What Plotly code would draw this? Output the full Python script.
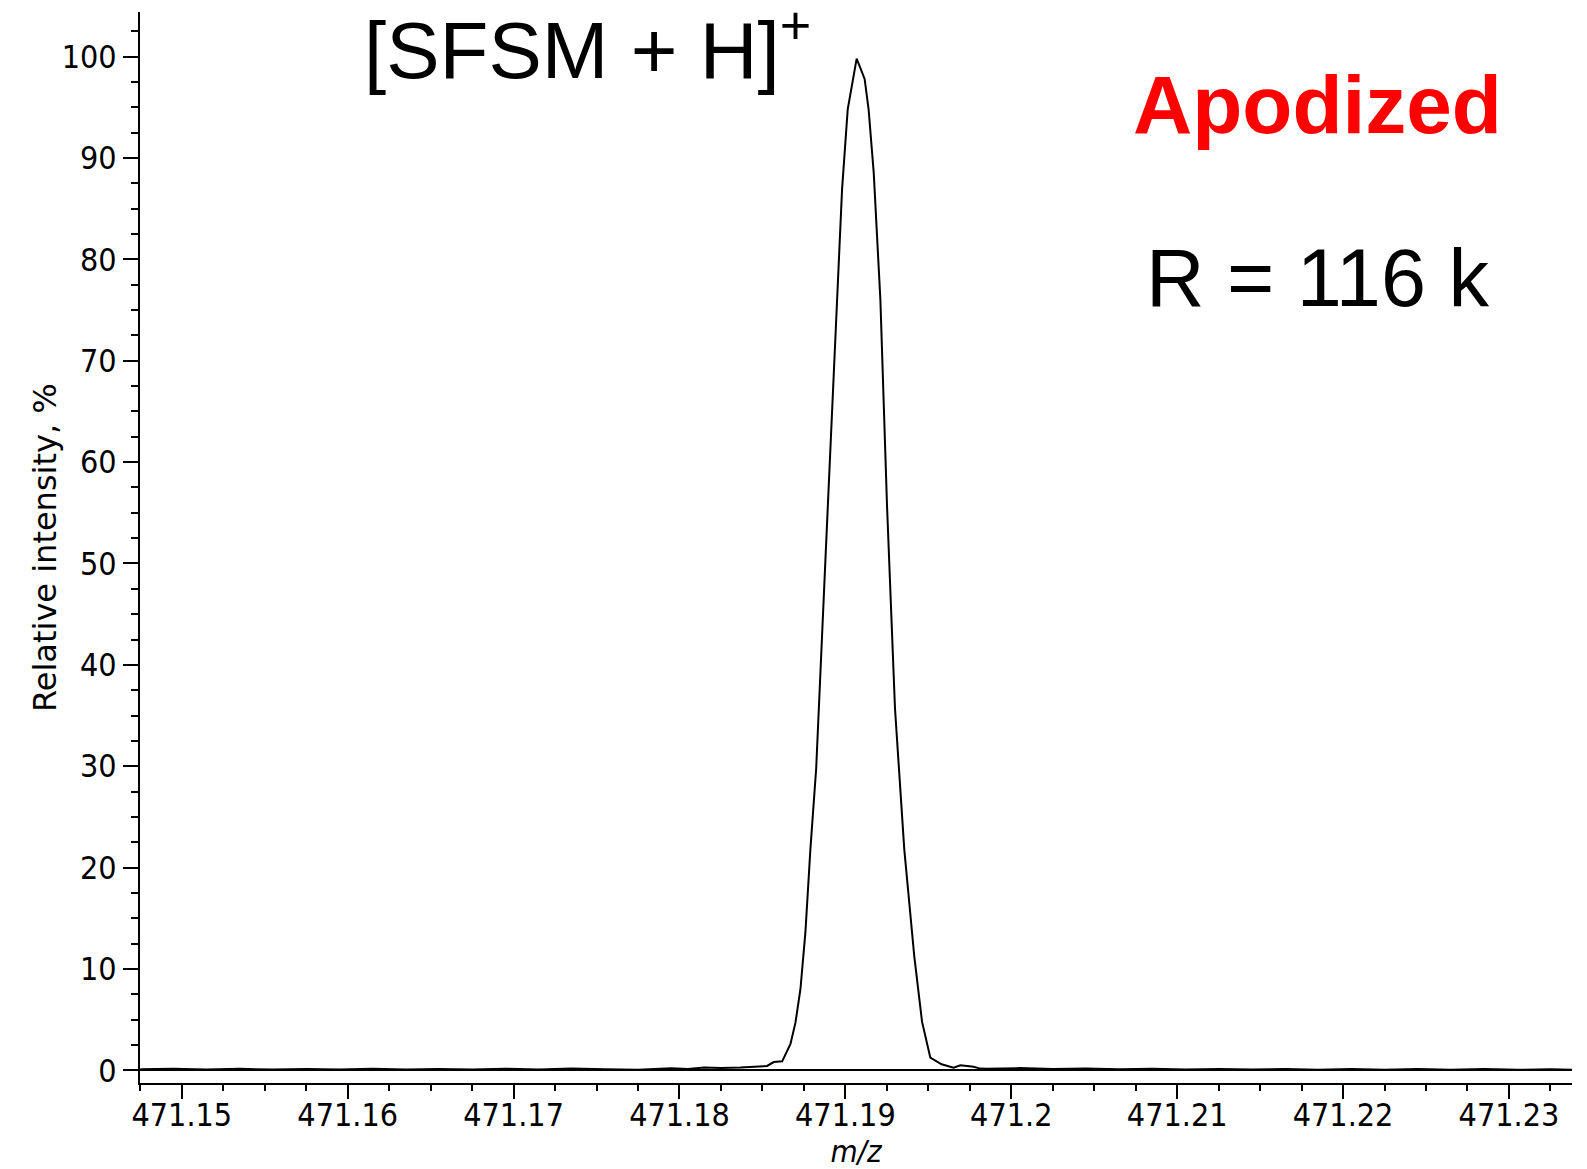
import plotly.graph_objects as go

# Mass spectrum profile of the [SFSM + H]+ ion (apodized transform)
mz = [
    471.14750, 471.14950, 471.15150, 471.15350, 471.15550, 471.15750,
    471.15950, 471.16150, 471.16350, 471.16550, 471.16750, 471.16950,
    471.17150, 471.17350, 471.17550, 471.17750, 471.17950, 471.18050,
    471.18150, 471.18250, 471.18367, 471.18450, 471.18528, 471.18568,
    471.18619, 471.18669, 471.18699, 471.18729, 471.18759, 471.18789,
    471.18824, 471.18880, 471.18950, 471.18980, 471.19014, 471.19068,
    471.19116, 471.19140, 471.19171, 471.19211, 471.19251, 471.19299,
    471.19355, 471.19415, 471.19462, 471.19512, 471.19580, 471.19652,
    471.19693, 471.19773, 471.19813, 471.19850, 471.20050, 471.20250,
    471.20450, 471.20650, 471.20850, 471.21050, 471.21250, 471.21450,
    471.21650, 471.21850, 471.22050, 471.22250, 471.22450, 471.22650,
    471.22850, 471.23050, 471.23250, 471.23380,
]
intensity = [
    0.10, 0.15, 0.08, 0.15, 0.07, 0.14,
    0.08, 0.15, 0.07, 0.14, 0.09, 0.16,
    0.08, 0.17, 0.10, 0.05, 0.20, 0.12,
    0.28, 0.22, 0.27, 0.35, 0.43, 0.82,
    0.89, 2.6, 4.7, 8.0, 13.6, 21.8,
    29.8, 50.5, 76.0, 86.9, 94.8, 99.8,
    97.8, 94.8, 88.5, 76.0, 55.7, 35.7,
    21.8, 11.3, 4.8, 1.25, 0.6, 0.27,
    0.5, 0.36, 0.17, 0.15, 0.22, 0.12,
    0.18, 0.10, 0.15, 0.08, 0.14, 0.07,
    0.13, 0.06, 0.13, 0.06, 0.12, 0.05,
    0.12, 0.05, 0.11, 0.06,
]

x_tick_vals = [471.15, 471.16, 471.17, 471.18, 471.19, 471.20, 471.21, 471.22, 471.23]
x_tick_text = ["471.15", "471.16", "471.17", "471.18", "471.19", "471.2", "471.21", "471.22", "471.23"]
y_tick_vals = [0, 10, 20, 30, 40, 50, 60, 70, 80, 90, 100]

ion_label = "[SFSM + H]<sup><span style='font-size:54px'>+</span></sup>"
mode_label = "Apodized"
resolution_label = "R = 116 k"
y_title = "Relative intensity, %"

axis_font = "DejaVu Sans Condensed, DejaVu Sans, sans-serif"
title_font = "DejaVu Sans, sans-serif"
label_font = "Liberation Sans, Arial, sans-serif"

fig = go.Figure()
fig.add_trace(go.Scatter(
    x=mz, y=intensity, mode="lines",
    line=dict(color="black", width=2),
    showlegend=False, hoverinfo="x+y",
))

fig.update_layout(
    width=1587, height=1169,
    margin=dict(l=140, r=15, t=12, b=86),
    paper_bgcolor="white", plot_bgcolor="white",
    font=dict(family=axis_font, color="black"),
)

fig.update_xaxes(
    range=[471.14748, 471.2338],
    automargin=False,
    tickmode="array", tickvals=x_tick_vals, ticktext=x_tick_text,
    ticks="outside", ticklen=14, tickwidth=2, tickcolor="black",
    ticklabelstandoff=-11,
    minor=dict(tickmode="linear", tick0=471.15, dtick=0.0025,
               ticks="outside", ticklen=6, tickwidth=2, tickcolor="black",
               showgrid=False),
    showline=True, linecolor="black", linewidth=2,
    showgrid=False, zeroline=False,
    tickfont=dict(family=axis_font, size=32, color="black"),
    title=dict(text="<i>m/z</i>", font=dict(family=axis_font, size=31, color="black"),
               standoff=0),
)

fig.update_yaxes(
    range=[-1.25, 104.4],
    automargin=False,
    tickmode="array", tickvals=y_tick_vals,
    ticks="outside", ticklen=15, tickwidth=2, tickcolor="black",
    minor=dict(tickmode="linear", tick0=0, dtick=2.5,
               ticks="outside", ticklen=7, tickwidth=2, tickcolor="black",
               showgrid=False),
    showline=True, linecolor="black", linewidth=2,
    showgrid=False,
    zeroline=True, zerolinecolor="black", zerolinewidth=2,
    tickfont=dict(family=axis_font, size=32, color="black"),
)

# Y-axis title placed as a rotated label left of the tick labels
fig.add_annotation(
    x=(45 - 140) / 1432, y=(1083 - 547) / 1071, xref="paper", yref="paper",
    text=y_title, textangle=-90, showarrow=False,
    xanchor="center", yanchor="middle",
    font=dict(family=title_font, size=32, color="black"),
)

fig.add_annotation(
    x=(587 - 140) / 1432, y=(1083 - 45) / 1071, xref="paper", yref="paper",
    text=ion_label, showarrow=False, xanchor="center", yanchor="middle",
    font=dict(family=label_font, size=80, color="black"),
)
fig.add_annotation(
    x=0.8223, y=(1083 - 104) / 1071, xref="paper", yref="paper",
    text="<b>" + mode_label + "</b>", showarrow=False, xanchor="center", yanchor="middle",
    font=dict(family=label_font, size=82, color="#ff0000"),
)
fig.add_annotation(
    x=0.8226, y=(1083 - 278) / 1071, xref="paper", yref="paper",
    text=resolution_label, showarrow=False, xanchor="center", yanchor="middle",
    font=dict(family=label_font, size=81, color="black"),
)

fig.write_html("out.html")
